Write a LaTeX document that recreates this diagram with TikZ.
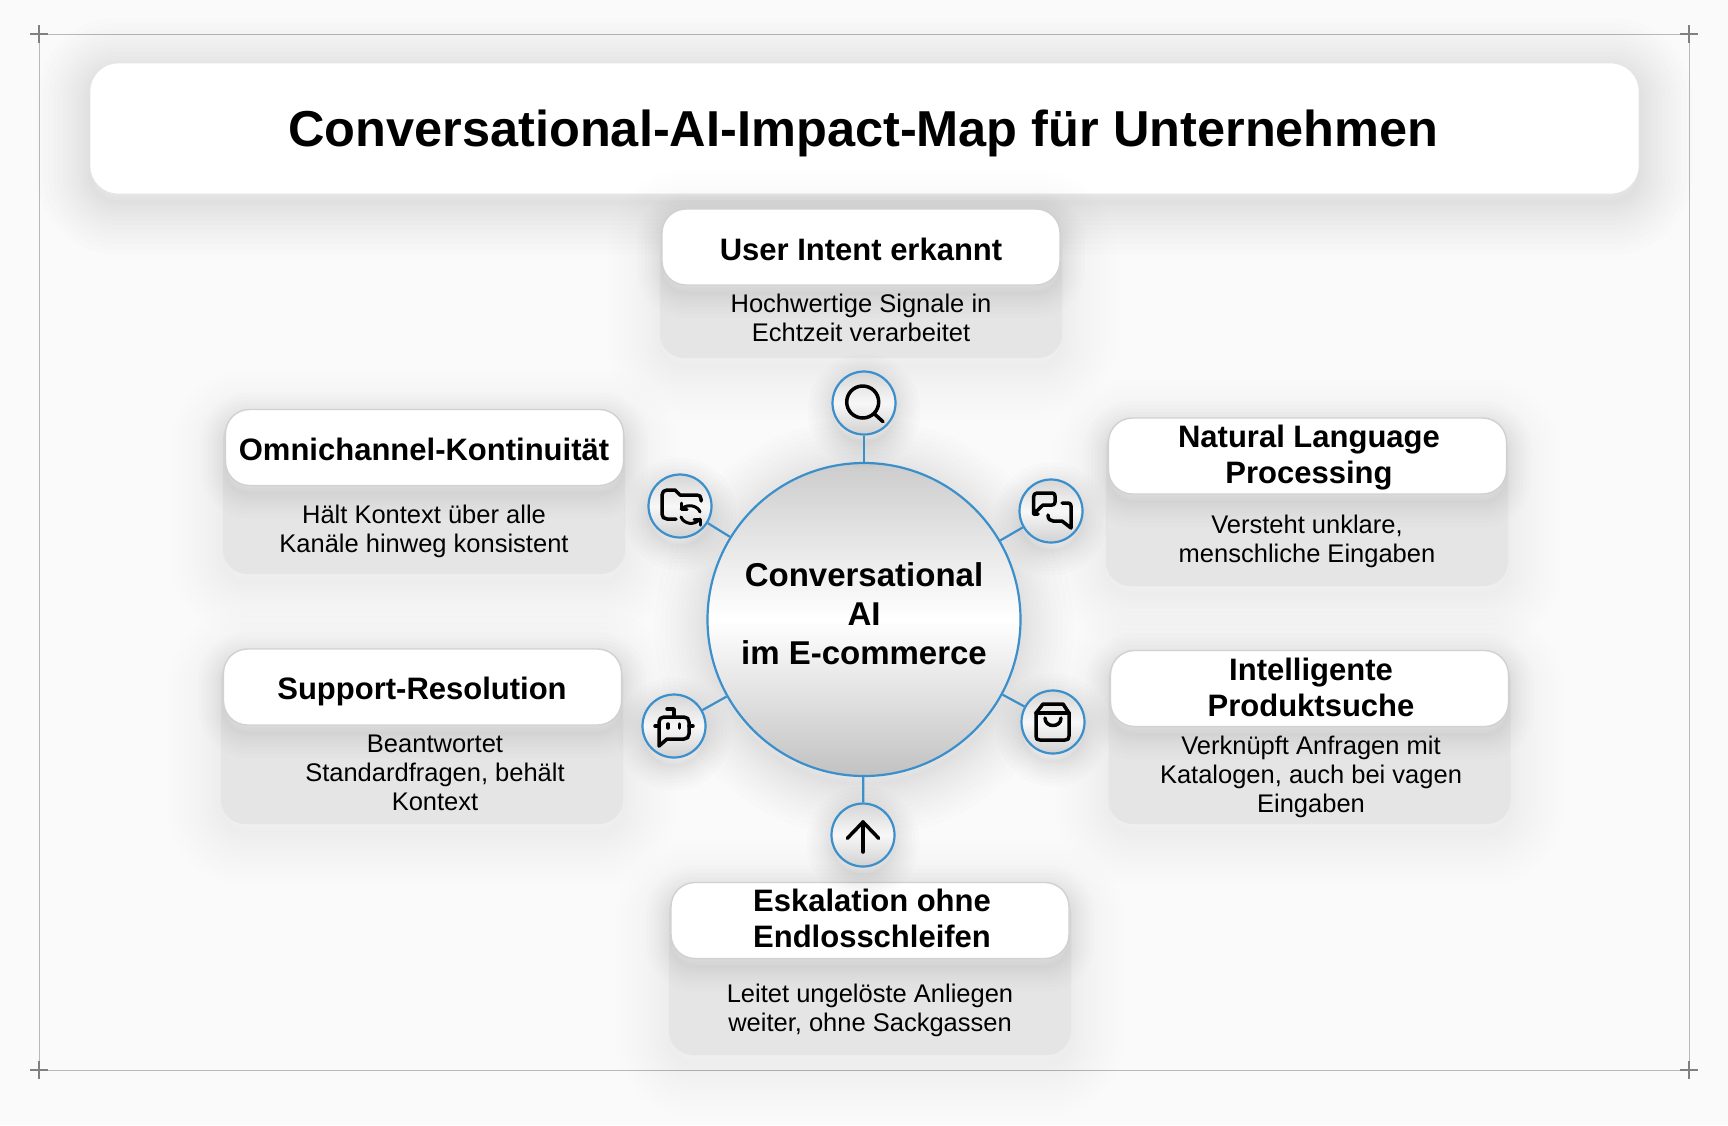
\documentclass[tikz,border=0pt]{standalone}
\usepackage{fontspec}
\setmainfont{Liberation Sans}
\definecolor{pagebg}{HTML}{FAFAFA}
\definecolor{linkblue}{HTML}{3B8FCB}
\definecolor{bodygrey}{HTML}{E6E5E6}
\tikzset{
  softlayer/.style 2 args={preaction={draw=black,draw opacity=#1,line width=#2,transform canvas={yshift=-8pt}}},
  softdrop/.style={softlayer={#1}{4pt},softlayer={#1}{10pt},softlayer={#1}{16pt},softlayer={#1}{23pt},
    softlayer={#1}{30pt},softlayer={#1}{38pt},softlayer={#1}{46pt},softlayer={#1}{55pt},
    softlayer={#1}{64pt},softlayer={#1}{74pt},softlayer={#1}{84pt},softlayer={#1}{95pt},softlayer={#1}{106pt}},
  tightdrop/.style={softlayer={#1}{2pt},softlayer={#1}{6pt},softlayer={#1}{11pt},softlayer={#1}{16pt},
    softlayer={#1}{22pt},softlayer={#1}{28pt},softlayer={#1}{35pt},softlayer={#1}{42pt},softlayer={#1}{50pt}},
  titlebox/.style={rectangle,rounded corners=28pt,fill=white,draw=black!10,line width=0.8pt,inner sep=0pt,
    minimum width=1549pt,minimum height=131pt,softdrop=0.009},
  titletext/.style={inner sep=0pt,font=\fontsize{50.5}{56}\selectfont\bfseries},
  headbox/.style={rectangle,rounded corners=24pt,fill=white,draw=black!18,line width=1.4pt,inner sep=0pt,
    minimum width=398pt,minimum height=76pt,tightdrop=0.009},
  bodybox/.style={rectangle,rounded corners=24pt,fill=bodygrey,inner sep=0pt,minimum width=402pt,softdrop=0.005},
  headtext/.style={align=center,inner sep=0pt,font=\fontsize{31}{36}\selectfont\bfseries},
  bodytext/.style={align=center,inner sep=0pt,font=\fontsize{25.5}{29}\selectfont},
  hub/.style={circle,draw=linkblue,line width=2.2pt,minimum size=313pt,inner sep=0pt,softdrop=0.007,
    top color=black!20,bottom color=black!24,middle color=white,shading angle=0},
  hubtext/.style={align=center,inner sep=0pt,font=\fontsize{33}{39}\selectfont\bfseries},
  iconnode/.style={circle,draw=linkblue,line width=2.2pt,minimum size=63pt,inner sep=0pt,tightdrop=0.01,
    top color=black!16,bottom color=black!18,middle color=black!3},
  link/.style={draw=linkblue,line width=2.2pt},
  icon/.style={line width=3.5pt,line cap=round,line join=round,black},
  framing/.style={draw=black!28,line width=1pt},
  crossmark/.style={draw=black!50,line width=1.5pt}
}
\begin{document}
\begin{tikzpicture}[x=1pt,y=-1pt]
  \fill[pagebg] (0,0) rectangle (1728,1125);
  \useasboundingbox (0,0) rectangle (1728,1125);
  \coordinate (tl) at (39,34);
  \coordinate (tr) at (1689,34);
  \coordinate (bl) at (39,1070);
  \coordinate (br) at (1689,1070);
  \draw[framing] (tl) -- (tr) -- (br) -- (bl) -- cycle;
  \foreach \c in {tl,tr,bl,br} {
    \draw[crossmark] ([xshift=-9pt]\c) -- ([xshift=9pt]\c);
    \draw[crossmark] ([yshift=-9pt]\c) -- ([yshift=9pt]\c);
  }
  \node[titlebox] (title) at (864.5,128.5) {};
  \node[titletext] (titlelabel) at (863.5,133) {Conversational-AI-Impact-Map für Unternehmen};

  \node[bodybox,minimum height=143pt] (intentbody) at (861,286.5) {};
  \node[headbox] (intenthead) at (861,247) {};
  \node[headtext] (intentlabel) at (861,249) {User Intent erkannt};
  \node[bodytext] (intenttext) at (861,318) {Hochwertige Signale in\\Echtzeit verarbeitet};

  \node[bodybox,minimum height=159pt] (omnibody) at (424,494.5) {};
  \node[headbox] (omnihead) at (424.5,447.5) {};
  \node[headtext] (omnilabel) at (424,449) {Omnichannel-Kontinuität};
  \node[bodytext] (omnitext) at (424,531) {Hält Kontext über alle\\Kanäle hinweg konsistent};

  \node[bodybox,minimum height=162pt] (nlpbody) at (1307,505) {};
  \node[headbox] (nlphead) at (1307.5,456) {};
  \node[headtext] (nlplabel) at (1309,457.5) {Natural Language\\Processing};
  \node[bodytext] (nlptext) at (1307,541.5) {Versteht unklare,\\menschliche Eingaben};

  \node[bodybox,minimum height=168pt] (searchbody) at (1309.5,740) {};
  \node[headbox] (searchhead) at (1309.5,688.5) {};
  \node[headtext] (searchlabel) at (1311,687.5) {Intelligente\\Produktsuche};
  \node[bodytext] (searchtext) at (1311,777) {Verknüpft Anfragen mit\\Katalogen, auch bei vagen\\Eingaben};

  \node[bodybox,minimum height=169pt] (supportbody) at (422,739.5) {};
  \node[headbox] (supporthead) at (422.5,687) {};
  \node[headtext] (supportlabel) at (422,691) {Support-Resolution};
  \node[bodytext] (supporttext) at (435,773) {Beantwortet\\Standardfragen, behält\\Kontext};

  \node[bodybox,minimum height=167pt] (escbody) at (870,971.5) {};
  \node[headbox] (eschead) at (870,920.5) {};
  \node[headtext] (esclabel) at (872,918.5) {Eskalation ohne\\Endlosschleifen};
  \node[bodytext] (esctext) at (870,1010) {Leitet ungelöste Anliegen\\weiter, ohne Sackgassen};

  \node[hub] (hub) at (864,619.5) {};
  \node[hubtext] (hublabel) at (864,614) {Conversational\\AI\\im E-commerce};
  \node[iconnode] (lens) at (864,403) {};
  \node[iconnode] (folder) at (680,506) {};
  \node[iconnode] (chat) at (1051,511) {};
  \node[iconnode] (bot) at (674,726) {};
  \node[iconnode] (bag) at (1053,722) {};
  \node[iconnode] (uparrow) at (863,835) {};
  \foreach \n in {lens,folder,chat,bot,bag,uparrow}
    \draw[link] (hub) -- (\n);

  \begin{scope}[shift={(lens.center)},icon]
    \draw (-1.3,-1) circle (16);
    \draw (10.5,11) -- (19,18.7);
  \end{scope}
  \begin{scope}[shift={(folder.center)},icon]
    \draw (-4,13) -- (-13,13) .. controls (-16,13) and (-18,11) .. (-18,8) -- (-18,-11)
      .. controls (-18,-14) and (-16,-16) .. (-13,-16) -- (-5,-16) -- (0,-11) -- (17,-11)
      .. controls (19.5,-11) and (21,-9.5) .. (21,-7) -- (21,-5);
    \draw[line width=3pt] (20,6) .. controls (18,0) and (8,-3) .. (1,3);
    \draw[line width=3pt] (1,-3) -- (1,3) -- (7,3);
    \draw[line width=3pt] (1,11) .. controls (4,18) and (14,20) .. (20,13);
    \draw[line width=3pt] (20,19) -- (20,13) -- (14,13);
  \end{scope}
  \begin{scope}[shift={(chat.center)},icon]
    \draw (-13,3) -- (-17.5,3) -- (-17.5,-14) .. controls (-17.5,-16.5) and (-16,-18) .. (-14,-18) -- (1,-18)
      .. controls (3,-18) and (4,-17) .. (4,-15) -- (4,-9) .. controls (4,-7) and (3,-6) .. (1,-6) -- (-8,-6) -- (-17.5,3);
    \draw (11,-8) -- (17,-8) .. controls (19,-8) and (20,-7) .. (20,-5) -- (20,17) -- (11,10) -- (2,10)
      .. controls (-1,10) and (-3,8) .. (-3,4);
  \end{scope}
  \begin{scope}[shift={(bot.center)},icon]
    \draw (-15,20) -- (-15,-4) .. controls (-15,-7) and (-13,-9) .. (-10,-9) -- (10,-9)
      .. controls (13,-9) and (15,-7) .. (15,-4) -- (15,8) .. controls (15,11) and (13,13) .. (10,13) -- (-7,13) -- cycle;
    \draw (0,-9) -- (0,-17) -- (-7,-17);
    \draw (-19,0) -- (-15,0);
    \draw (15,0) -- (19,0);
    \draw (-6,-2) -- (-6,2);
    \draw (5.5,-2) -- (5.5,2);
  \end{scope}
  \begin{scope}[shift={(bag.center)},icon]
    \draw (-17,-9) -- (-10,-18) -- (10,-18) -- (16,-9) -- (16,14)
      .. controls (16,17) and (15,18) .. (12,18) -- (-13,18) .. controls (-16,18) and (-17,17) .. (-17,14) -- cycle;
    \draw (-17,-9) -- (16,-9);
    \draw (-8,-4) .. controls (-8,6) and (8,6) .. (8,-4);
  \end{scope}
  \begin{scope}[shift={(uparrow.center)},icon]
    \draw (0,17) -- (0,-13);
    \draw (-15.7,3.3) -- (0,-13) -- (15.7,3.3);
  \end{scope}
\end{tikzpicture}
\end{document}
